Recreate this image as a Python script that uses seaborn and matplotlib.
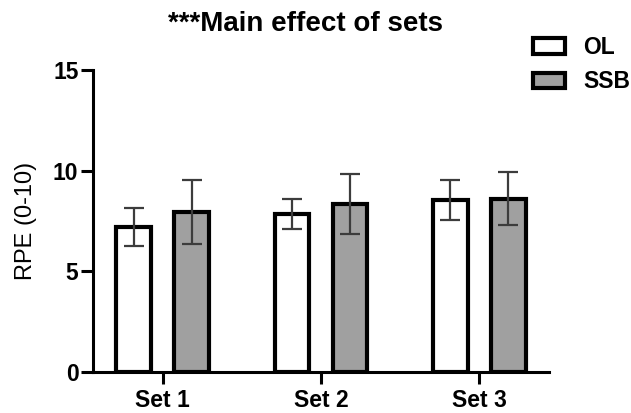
import pandas as pd
import matplotlib
matplotlib.use("Agg")
from matplotlib import pyplot as plt
import seaborn as sns

# values
sets = ["Set 1", "Set 2", "Set 3"]
groups = ["OL", "SSB"]
ol_mean = [7.2, 7.85, 8.55]
ol_err = [0.93, 0.75, 1.0]
ssb_mean = [7.95, 8.35, 8.6]
ssb_err = [1.6, 1.5, 1.32]
y_ticks = [0, 5, 10, 15]

sns.set_style("ticks", {
    "axes.edgecolor": "black", "text.color": "black",
    "axes.labelcolor": "black", "xtick.color": "black",
    "ytick.color": "black"})
plt.rcParams["font.family"] = ["Liberation Sans", "DejaVu Sans"]

df = pd.DataFrame({
    "set": sets * 2,
    "group": [groups[0]] * 3 + [groups[1]] * 3,
    "rpe": ol_mean + ssb_mean,
})

fig = plt.figure(figsize=(6.31, 4.13), dpi=100)
ax = fig.add_axes([93 / 631, 1 - 372 / 413, 456 / 631, 302 / 413])

sns.barplot(
    data=df, x="set", y="rpe", hue="group", order=sets, hue_order=groups,
    palette={"OL": "white", "SSB": "#a0a0a0"}, saturation=1,
    edgecolor="black", linewidth=3, width=0.73, gap=0.4,
    errorbar=None, ax=ax)

# error bars on top of each bar container
for cont, errs in zip(ax.containers, [ol_err, ssb_err]):
    xs = [p.get_x() + p.get_width() / 2 for p in cont.patches]
    ys = [p.get_height() for p in cont.patches]
    ax.errorbar(xs, ys, yerr=errs, fmt="none", ecolor="#3c3c3c",
                elinewidth=1.6, capsize=7.5, capthick=1.6, zorder=5)

ax.set_ylim(0, 15)
ax.set_xlim(-0.44, 2.44)
ax.set_yticks(y_ticks)
ax.set_xlabel("")
ax.set_ylabel("RPE (0-10)", fontsize=17)
ax.yaxis.set_label_coords(-0.123, 0.5)
sns.despine(ax=ax)
for side in ["left", "bottom"]:
    ax.spines[side].set_linewidth(2.2)
ax.tick_params(axis="both", width=2.2, length=8.5, labelsize=16.5, pad=2)
ax.tick_params(axis="x", pad=3.5)
for lbl in ax.get_xticklabels() + ax.get_yticklabels():
    lbl.set_fontweight("bold")

handles, labels = ax.get_legend_handles_labels()
leg = ax.legend(handles, labels, loc="upper left", frameon=False,
                bbox_to_anchor=(533 / 631, 1 - 36 / 413),
                bbox_transform=fig.transFigure, borderpad=0,
                borderaxespad=0, handlelength=1.4, handleheight=0.65,
                handletextpad=0.8, labelspacing=0.5,
                prop={"size": 16.5, "weight": "bold"})

fig.text(305 / 631, 1 - 24 / 413, "***Main effect of sets", ha="center",
         va="center", fontsize=20, fontweight="bold")

fig.savefig("out.png", dpi=100)
